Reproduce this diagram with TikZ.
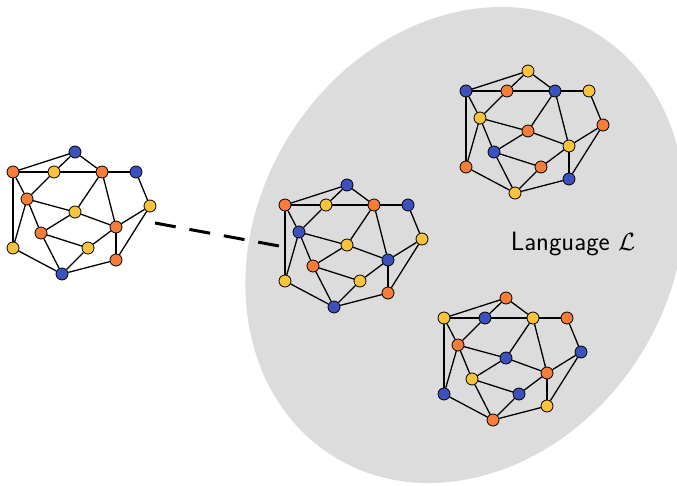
\documentclass[tikz,border=0pt]{standalone}
\usepackage{tikz}
\usepackage{amsmath}
\usetikzlibrary{arrows.meta,positioning}
\definecolor{vblue}{HTML}{3C50BE}
\definecolor{vorange}{HTML}{F57D37}
\definecolor{vyellow}{HTML}{FAC33C}
\definecolor{langbg}{HTML}{DCDCDC}

% one graph: name prefix, shift, vertex colours
\newcommand{\molgraph}[3]{%
  \begin{scope}[shift={#2}]
    \foreach \n/\p in {A/{0,0},B/{-62,20},C/{-21,20},D/{27,20},E/{61,20},
                       F/{-48,47},G/{75,54},H/{0,60},I/{41,75},J/{-34,81},
                       K/{-62,96},L/{13,96},M/{41,108},N/{-13,122}}
      \coordinate (#1p\n) at (\p);
    \foreach \n/\c in {#3}
      \node[vert, fill=\c] (#1\n) at (#1p\n) {};
    \foreach \a/\b in {A/B,A/C,A/D,B/C,C/D,D/E,B/F,B/K,C/F,D/H,D/I,E/G,F/H,
                       F/J,F/K,G/I,G/M,H/I,H/J,I/L,I/M,J/L,J/N,K/N,L/N,M/N}
      \draw[edge] (#1\a) -- (#1\b);
  \end{scope}}

\begin{document}
\begin{tikzpicture}[
  x=1pt, y=-1pt,
  vert/.style={circle, draw=black, line width=0.8pt, inner sep=0pt, minimum size=12pt},
  edge/.style={draw=black, line width=1.3pt},
  link/.style={draw=black, line width=3pt, dash pattern=on 21pt off 14pt},
  label/.style={font=\fontsize{26.5}{32}\selectfont\sffamily}
]
\useasboundingbox (0,0) rectangle (677,485);
\fill[langbg, rotate around={58:(465,245)}] (465,245) ellipse [x radius=249, y radius=207];

\molgraph{g}{(75,152)}{A/vblue,B/vorange,C/vyellow,D/vorange,E/vblue,F/vorange,G/vyellow,
  H/vyellow,I/vorange,J/vorange,K/vyellow,L/vyellow,M/vorange,N/vblue}
\molgraph{s}{(347,185)}{A/vblue,B/vorange,C/vyellow,D/vorange,E/vblue,F/vblue,G/vyellow,
  H/vyellow,I/vblue,J/vorange,K/vyellow,L/vyellow,M/vorange,N/vblue}
\molgraph{t}{(528,71)}{A/vyellow,B/vblue,C/vorange,D/vblue,E/vyellow,F/vyellow,G/vorange,
  H/vorange,I/vyellow,J/vblue,K/vorange,L/vorange,M/vblue,N/vyellow}
\molgraph{u}{(506,298)}{A/vorange,B/vyellow,C/vblue,D/vyellow,E/vorange,F/vorange,G/vblue,
  H/vblue,I/vorange,J/vyellow,K/vblue,L/vblue,M/vyellow,N/vorange}

\coordinate (linkout) at (155,223);
\coordinate (linkin) at (279,246);
\draw[link] (linkout) -- (linkin);

\node[label] (lang) at (573,244) {Language $\mathcal{L}$};
\end{tikzpicture}
\end{document}
